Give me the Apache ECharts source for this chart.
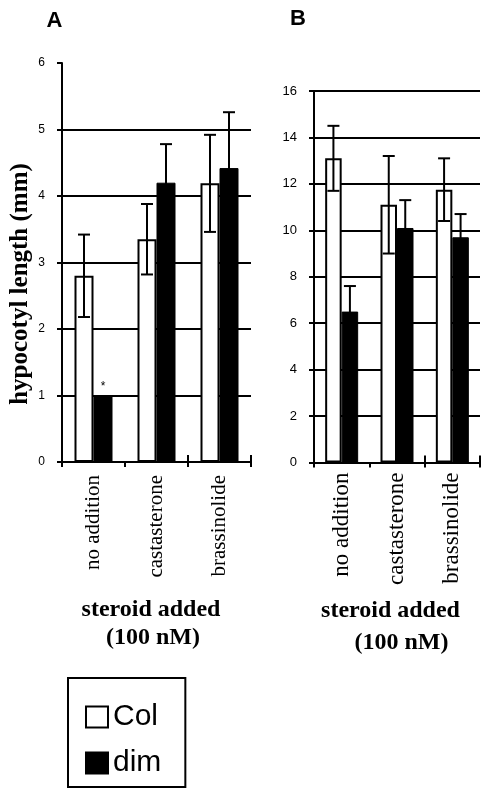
<!DOCTYPE html>
<html>
<head>
<meta charset="utf-8">
<script src="https://cdn.jsdelivr.net/npm/echarts@6/dist/echarts.min.js"></script>
<style>
html,body{margin:0;padding:0;background:#fff;}
#chart{width:482px;height:788px;}
</style>
</head>
<body>
<div id="chart"></div>
<script>
// ---- data ----
const categories = ['no addition', 'castasterone', 'brassinolide'];
const seriesNames = ['Col', 'dim'];
// Panel A (mm)
const colA = [2.8, 3.35, 4.19];
const colAErr = [0.62, 0.53, 0.73];
const dimA = [1.0, 4.2, 4.42];
const dimAErr = [null, 0.58, 0.84];
const dimAMark = ['*', '', ''];
// Panel B (mm)
const colB = [13.1, 11.1, 11.75];
const colBErr = [1.4, 2.1, 1.35];
const dimB = [6.5, 10.1, 9.7];
const dimBErr = [1.1, 1.2, 1.0];
// axis ticks
const yTicksA = [0, 1, 2, 3, 4, 5, 6];
const yTicksB = [0, 2, 4, 6, 8, 10, 12, 14, 16];
// titles
const panelLabels = ['A', 'B'];
const yTitle = 'hypocotyl length (mm)';
const xTitle = ['steroid added', '(100 nM)'];

// ---- styles ----
const SERIF = '"Liberation Serif", "Times New Roman", serif';
const SANS = '"Liberation Sans", Arial, sans-serif';
const BLK = '#000';
const barWA = 19, barWB = 16.5, capW = 12;

function errSeries(name, vals, errs, xi, yi, offset) {
  return {
    name: name, type: 'custom', xAxisIndex: xi, yAxisIndex: yi, z: 5,
    encode: {x: 0, y: 1},
    data: vals.map((v, i) => [i, v, errs[i] == null ? NaN : errs[i]]),
    renderItem: function (params, api) {
      const idx = api.value(0), v = api.value(1), e = api.value(2);
      if (e == null || isNaN(e)) return null;
      const c = api.coord([idx, v]);
      const x = c[0] + offset;
      const top = api.coord([idx, v + e])[1];
      const bot = api.coord([idx, v - e])[1];
      const st = {stroke: BLK, lineWidth: 2};
      return {type: 'group', children: [
        {type: 'line', shape: {x1: x, y1: top, x2: x, y2: bot}, style: st},
        {type: 'line', shape: {x1: x - capW / 2, y1: top, x2: x + capW / 2, y2: top}, style: st},
        {type: 'line', shape: {x1: x - capW / 2, y1: bot, x2: x + capW / 2, y2: bot}, style: st}
      ]};
    }
  };
}

function xAxisFor(gi, fontSize, margin) {
  return [{
    type: 'category', gridIndex: gi, data: categories, position: 'bottom',
    axisLine: {lineStyle: {color: BLK, width: 2}},
    axisTick: {show: true, length: 5, lineStyle: {color: BLK, width: 2}},
    axisLabel: {rotate: 90, fontFamily: SERIF, fontSize: fontSize, color: BLK, margin: margin},
    splitLine: {show: false}
  }, {
    type: 'category', gridIndex: gi, data: categories, position: 'bottom',
    axisLine: {show: false},
    axisTick: {show: true, inside: true, length: 7, lineStyle: {color: BLK, width: 2}},
    axisLabel: {show: false},
    splitLine: {show: false}
  }];
}

function yAxisFor(gi, ticks, fontSize, showMax) {
  return {
    type: 'value', gridIndex: gi, min: ticks[0], max: ticks[ticks.length - 1],
    interval: ticks[1] - ticks[0],
    axisLine: {show: true, lineStyle: {color: BLK, width: 2}},
    axisTick: {show: true, length: 5, lineStyle: {color: BLK, width: 2}},
    axisLabel: {fontFamily: SANS, fontSize: fontSize, color: BLK, margin: 17},
    splitLine: {show: true, showMinLine: false, showMaxLine: showMax, lineStyle: {color: BLK, width: 2}}
  };
}

const colStyle = {color: '#fff', borderColor: BLK, borderWidth: 2};
const dimStyle = {color: BLK, borderColor: BLK, borderWidth: 1};

const option = {
  animation: false,
  backgroundColor: '#fff',
  grid: [
    {left: 62, top: 63, width: 189, height: 399},
    {left: 314, top: 91, width: 166, height: 371.5}
  ],
  xAxis: [].concat(xAxisFor(0, 21, 13), xAxisFor(1, 23, 10)),
  yAxis: [yAxisFor(0, yTicksA, 12, false), yAxisFor(1, yTicksB, 13, true)],
  legend: {
    data: seriesNames.map(n => ({name: n, icon: 'rect'})),
    orient: 'vertical', left: 68, top: 678,
    itemWidth: 22, itemHeight: 21, itemGap: 16, itemTextGap: 16,
    padding: [24, 24, 9, 17],
    borderColor: BLK, borderWidth: 2,
    itemStyle: {borderColor: BLK, borderWidth: 2},
    textStyle: {fontFamily: SANS, fontSize: 30, lineHeight: 30, color: BLK},
    selectedMode: false
  },
  series: [
    {name: 'Col', type: 'bar', xAxisIndex: 0, yAxisIndex: 0, data: colA, barWidth: barWA, barGap: '0%', itemStyle: colStyle, z: 2},
    {name: 'dim', type: 'bar', xAxisIndex: 0, yAxisIndex: 0, barWidth: barWA, barGap: '0%', itemStyle: dimStyle, z: 2,
     data: dimA.map((v, i) => dimAMark[i] ? {value: v, label: {show: true, position: 'top', formatter: dimAMark[i], distance: 3, fontFamily: SANS, fontSize: 12, color: BLK}} : v)},
    errSeries('errColA', colA, colAErr, 0, 0, -barWA / 2),
    errSeries('errDimA', dimA, dimAErr, 0, 0, barWA / 2),
    {name: 'Col', type: 'bar', xAxisIndex: 2, yAxisIndex: 1, data: colB, barWidth: barWB, barGap: '0%', itemStyle: colStyle, z: 2},
    {name: 'dim', type: 'bar', xAxisIndex: 2, yAxisIndex: 1, data: dimB, barWidth: barWB, barGap: '0%', itemStyle: dimStyle, z: 2},
    errSeries('errColB', colB, colBErr, 2, 1, -barWB / 2),
    errSeries('errDimB', dimB, dimBErr, 2, 1, barWB / 2)
  ],
  graphic: [
    {type: 'text', x: 54.5, y: 20.5, style: {text: panelLabels[0], font: 'bold 22px ' + SANS, fill: BLK, textAlign: 'center', textVerticalAlign: 'middle'}},
    {type: 'text', x: 298, y: 18.5, style: {text: panelLabels[1], font: 'bold 22px ' + SANS, fill: BLK, textAlign: 'center', textVerticalAlign: 'middle'}},
    {type: 'text', x: 21, y: 284, rotation: Math.PI / 2, style: {text: yTitle, font: 'bold 25px ' + SERIF, fill: BLK, textAlign: 'center', textVerticalAlign: 'middle'}},
    {type: 'text', x: 151, y: 610, style: {text: xTitle[0], font: 'bold 24px ' + SERIF, fill: BLK, textAlign: 'center', textVerticalAlign: 'middle'}},
    {type: 'text', x: 153, y: 637.5, style: {text: xTitle[1], font: 'bold 24px ' + SERIF, fill: BLK, textAlign: 'center', textVerticalAlign: 'middle'}},
    {type: 'text', x: 390.5, y: 611, style: {text: xTitle[0], font: 'bold 24px ' + SERIF, fill: BLK, textAlign: 'center', textVerticalAlign: 'middle'}},
    {type: 'text', x: 401.5, y: 642.5, style: {text: xTitle[1], font: 'bold 24px ' + SERIF, fill: BLK, textAlign: 'center', textVerticalAlign: 'middle'}}
  ]
};

const chart = echarts.init(document.getElementById('chart'), null, {renderer: 'canvas'});
chart.setOption(option);
</script>
</body>
</html>
